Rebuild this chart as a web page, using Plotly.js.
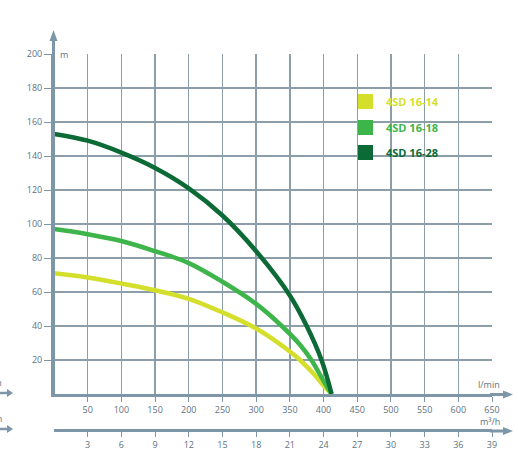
<!DOCTYPE html>
<html><head><meta charset="utf-8">
<script src="https://cdn.plot.ly/plotly-3.0.1.min.js"></script>
<style>html,body{margin:0;padding:0;background:#fff}#c{width:518px;height:461px}</style>
</head><body><div id="c"></div>
<script>
const seriesNames = ["4SD 16-14", "4SD 16-18", "4SD 16-28"];
const flow1614 = [0, 50, 100, 150, 200, 250, 300, 350, 365, 385, 401, 412];
const head1614 = [71, 68.5, 65, 61, 56, 48, 38.5, 25, 20, 12, 4.5, 0];
const flow1618 = [0, 50, 100, 150, 200, 250, 300, 338, 365, 382, 401, 412];
const head1618 = [97, 94, 90, 84, 77, 66, 53, 40, 29, 20, 7, 0];
const flow1628 = [0, 50, 100, 150, 200, 250, 300, 350, 375, 397, 412];
const head1628 = [153, 149, 142, 133, 121, 105, 84, 58, 40, 20, 0];
const lminTicks = [50,100,150,200,250,300,350,400,450,500,550,600,650];
const m3hTicks = [3,6,9,12,15,18,21,24,27,30,33,36,39];
const yTicks = [20,40,60,80,100,120,140,160,180,200];
const colors = ["#d4df2c", "#3db54a", "#0b6a35"];

const W=518,H=461,L=54,R=26,T=54,B=31;
const pw=W-L-R, ph=H-T-B;
const px = x => (x-L)/pw;
const py = y => (H-B-y)/ph;
const axisCol="#7d96a8", gridCol="#8d9eab", tickCol="#5d7384";

const flows=[flow1614, flow1618, flow1628];
const heads=[head1614, head1618, head1628];
const traces = heads.map((h,i)=>({
  x: flows[i], y: h, type:'scatter', mode:'lines', name: seriesNames[i],
  line:{color:colors[i], width:4.5, shape:'spline', smoothing:1},
  xaxis:'x', yaxis:'y', showlegend:false, hoverinfo:'skip'
}));
traces.push({x:[0],y:[0],xaxis:'x2',yaxis:'y',mode:'markers',marker:{opacity:0},showlegend:false,hoverinfo:'skip'});

const shapes=[];
function line(x0,y0,x1,y1,w){shapes.push({type:'line',xref:'paper',yref:'paper',x0:px(x0),y0:py(y0),x1:px(x1),y1:py(y1),line:{color:axisCol,width:w}});}
function tri(pts){shapes.push({type:'path',xref:'paper',yref:'paper',path:'M'+pts.map(p=>px(p[0])+','+py(p[1])).join(' L')+' Z',fillcolor:axisCol,line:{color:axisCol,width:0}});}
line(53.5,394,53.5,38,3);
tri([[49.5,41],[57.5,41],[53.5,30]]);
line(490,394.5,505,394.5,3);
tri([[503,390.5],[503,398.5],[513,394.5]]);
line(490,431,505,431,3);
tri([[503,427],[503,435],[513,431]]);
line(-2,393,9,393,2.5);
tri([[7,389],[7,397],[13,393]]);
line(-2,429,9,429,2.5);
tri([[7,425],[7,433],[13,429]]);
const sqY=[94,120,145];
sqY.forEach((y,i)=>shapes.push({type:'rect',xref:'paper',yref:'paper',x0:px(358),x1:px(373),y0:py(y),y1:py(y+15),fillcolor:colors[i],line:{width:0}}));

const annotations=[];
const ff='Open Sans, sans-serif';
seriesNames.forEach((n,i)=>annotations.push({xref:'paper',yref:'paper',x:px(384),y:py(sqY[i]+7.5),xanchor:'left',yanchor:'middle',showarrow:false,text:'<b>'+n+'</b>',font:{family:ff,size:11,color:colors[i]}}));
annotations.push({xref:'paper',yref:'paper',x:px(58),y:py(54),xanchor:'left',yanchor:'middle',showarrow:false,text:'m',bgcolor:'#ffffff',borderpad:1,font:{family:ff,size:9,color:tickCol}});
annotations.push({xref:'paper',yref:'paper',x:px(502),y:py(384),xanchor:'right',yanchor:'middle',showarrow:false,text:'l/min',font:{family:ff,size:9,color:tickCol}});
annotations.push({xref:'paper',yref:'paper',x:px(502),y:py(421),xanchor:'right',yanchor:'middle',showarrow:false,text:'m³/h',font:{family:ff,size:9,color:tickCol}});
annotations.push({xref:'paper',yref:'paper',x:px(4),y:py(382),xanchor:'right',yanchor:'middle',showarrow:false,text:'l/min',font:{family:ff,size:9,color:tickCol}});
annotations.push({xref:'paper',yref:'paper',x:px(4),y:py(418),xanchor:'right',yanchor:'middle',showarrow:false,text:'m³/h',font:{family:ff,size:9,color:tickCol}});

const tf={family:ff,size:9,color:tickCol};
const layout={
  width:W,height:H,margin:{l:L,r:R,t:T,b:B,pad:0},
  paper_bgcolor:'#fff',plot_bgcolor:'#fff',showlegend:false,
  xaxis:{range:[0,650],anchor:'y',tickvals:lminTicks,ticktext:lminTicks.map(String),showgrid:true,gridcolor:gridCol,gridwidth:1.3,
    zeroline:false,showline:true,linecolor:axisCol,linewidth:3,ticks:'outside',ticklen:5,tickcolor:axisCol,tickwidth:1,tickfont:tf},
  xaxis2:{range:[0,39],overlaying:'x',anchor:'free',position:0,side:'bottom',tickvals:m3hTicks,ticktext:m3hTicks.map(String),showgrid:false,
    zeroline:false,showline:true,linecolor:axisCol,linewidth:3,ticks:'outside',ticklen:5,tickcolor:axisCol,tickwidth:1,tickfont:tf},
  yaxis:{range:[0,200],domain:[36/ph,1],tickvals:yTicks,ticktext:yTicks.map(String),showgrid:true,gridcolor:gridCol,gridwidth:1.3,
    zeroline:false,showline:true,linecolor:axisCol,linewidth:3,ticks:'outside',ticklen:7,tickcolor:axisCol,tickwidth:1,tickfont:tf},
  shapes:shapes,annotations:annotations
};
Plotly.newPlot('c',traces,layout,{displayModeBar:false,staticPlot:true});
</script></body></html>
